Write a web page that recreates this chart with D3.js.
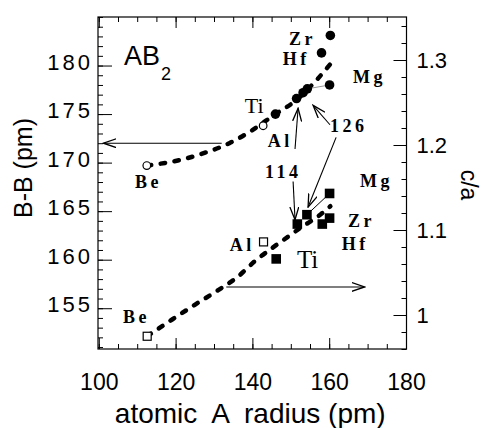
<!DOCTYPE html>
<html>
<head>
<meta charset="utf-8">
<script src="https://cdn.jsdelivr.net/npm/d3@7"></script>
<style>
  body { margin: 0; background: #fff; }
  text { fill: #000; }
</style>
</head>
<body>
<svg id="canvas"></svg>
<script>
/* B-B distance (left axis) - circles */
const bbNames  = ["Be", "Al", "Ti", "114", "126", "126b", "Hf", "Mg", "Zr"];
const bbRadius = [112.5, 142.8, 146.0, 151.5, 153.2, 154.3, 158.0, 160.1, 160.3];
const bbValue  = [169.7, 173.8, 175.0, 176.6, 177.2, 177.6, 181.3, 178.0, 183.1];
const bbOpen   = ["Be", "Al"];

/* c/a ratio (right axis) - squares */
const caNames  = ["Be", "Al", "Ti", "114", "126", "Hf", "Zr", "Mg"];
const caRadius = [112.6, 142.9, 146.2, 151.7, 154.2, 158.2, 160.1, 160.1];
const caValue  = [0.975, 1.086, 1.066, 1.107, 1.118, 1.107, 1.114, 1.143];
const caOpen   = ["Be", "Al"];

/* dashed guide curves */
const bbFitRadius = [112.5, 121.5, 127.5, 134.0, 139.8, 146.0, 151.0, 156.7, 160.4];
const bbFitValue  = [169.7, 170.3, 171.0, 172.0, 173.3, 175.0, 176.3, 178.5, 180.2];
const caFitRadius = [112.6, 119.2, 125.0, 131.0, 136.2, 140.8, 144.9, 148.0, 153.0, 157.1, 160.3];
const caFitValue  = [0.975, 0.995, 1.012, 1.029, 1.045, 1.064, 1.078, 1.088, 1.104, 1.116, 1.128];

/* ticks */
const xTicks  = [100, 120, 140, 160, 180];
const bbTicks = [155, 160, 165, 170, 175, 180];
const caTicks = [1.0, 1.1, 1.2, 1.3];

const width = 483, height = 428;
const fLeft = 98, fRight = 406.5, fTop = 17, fBottom = 349;

const svg = d3.select("#canvas")
    .attr("width", width)
    .attr("height", height);

const x  = d3.scaleLinear().domain([100, 180]).range([98.8, 406]);
const yL = d3.scaleLinear().domain([150.8, 185]).range([fBottom, fTop]);
const yR = d3.scaleLinear().domain([0.96, 1.3506]).range([fBottom, fTop]);

/* axes: majors with labels, minors without */
function minor(axis) {
    return g => g.call(axis.tickFormat("").tickSize(-5))
        .call(g => g.select(".domain").remove());
}

svg.append("g").attr("transform", `translate(0,${fBottom})`)
    .call(minor(d3.axisBottom(x).tickValues(d3.range(100, 181, 5))));
svg.append("g").attr("transform", `translate(0,${fTop})`)
    .call(minor(d3.axisTop(x).tickValues(d3.range(100, 181, 5))));
svg.append("g").attr("transform", `translate(${fLeft},0)`)
    .call(minor(d3.axisLeft(yL).tickValues(d3.range(151, 185.1, 1))));
svg.append("g").attr("transform", `translate(${fRight},0)`)
    .call(minor(d3.axisRight(yR).tickValues(d3.range(0.96, 1.35, 0.02))));

const xAxis = svg.append("g").attr("transform", `translate(0,${fBottom})`)
    .call(d3.axisBottom(x).tickValues(xTicks).tickSize(-11).tickPadding(0));
xAxis.selectAll("text")
    .attr("y", 41).attr("dy", null)
    .style("font", "23px 'Liberation Sans', Arial, sans-serif");

svg.append("g").attr("transform", `translate(0,${fTop})`)
    .call(d3.axisTop(x).tickValues(xTicks).tickSize(-11).tickFormat(""));

const lAxis = svg.append("g").attr("transform", `translate(${fLeft},0)`)
    .call(d3.axisLeft(yL).tickValues(bbTicks).tickSize(-14));
lAxis.selectAll("text")
    .attr("x", -5).attr("dy", "0.16em")
    .style("font", "22px 'Liberation Sans', Arial, sans-serif")
    .style("letter-spacing", "3px");

const rAxis = svg.append("g").attr("transform", `translate(${fRight},0)`)
    .call(d3.axisRight(yR).tickValues(caTicks).tickSize(-13)
        .tickFormat(d => d === 1 ? "1" : d3.format(".1f")(d)));
rAxis.selectAll("text")
    .attr("x", 10).attr("dy", "0.36em")
    .style("font", "22px 'Liberation Sans', Arial, sans-serif");

svg.selectAll(".domain").remove();
svg.selectAll(".tick line").attr("stroke", "#000").attr("stroke-width", 1);

svg.append("rect")
    .attr("x", fLeft).attr("y", fTop)
    .attr("width", fRight - fLeft).attr("height", fBottom - fTop)
    .attr("fill", "none").attr("stroke", "#000").attr("stroke-width", 1.2);

/* axis titles */
svg.append("text")
    .attr("x", (fLeft + fRight) / 2 - 2).attr("y", 423)
    .attr("text-anchor", "middle")
    .style("font", "28px 'Liberation Sans', Arial, sans-serif")
    .style("white-space", "pre")
    .text("atomic  A  radius (pm)");

svg.append("text")
    .attr("transform", "translate(32,168) rotate(-90)")
    .attr("text-anchor", "middle")
    .style("font", "25px 'Liberation Sans', Arial, sans-serif")
    .text("B-B (pm)");

svg.append("text")
    .attr("transform", "translate(461,185) rotate(90)")
    .attr("text-anchor", "middle")
    .style("font", "23px 'Liberation Sans', Arial, sans-serif")
    .text("c/a");

/* AB2 */
const ab = svg.append("text")
    .attr("x", 124).attr("y", 65)
    .style("font", "27px 'Liberation Sans', Arial, sans-serif");
ab.append("tspan").text("AB");
ab.append("tspan").attr("dy", 15).attr("dx", 1).style("font-size", "18px").text("2");

/* dashed curves */
const bbFit = bbFitRadius.map((r, i) => [r, bbFitValue[i]]);
const caFit = caFitRadius.map((r, i) => [r, caFitValue[i]]);

svg.append("path")
    .datum(bbFit)
    .attr("d", d3.line().x(d => x(d[0])).y(d => yL(d[1])).curve(d3.curveMonotoneX))
    .attr("fill", "none").attr("stroke", "#000")
    .attr("stroke-width", 4.5).attr("stroke-linecap", "round")
    .attr("stroke-dasharray", "4.5,9.5");

svg.append("path")
    .datum(caFit)
    .attr("d", d3.line().x(d => x(d[0])).y(d => yR(d[1])).curve(d3.curveMonotoneX))
    .attr("fill", "none").attr("stroke", "#000")
    .attr("stroke-width", 4.5).attr("stroke-linecap", "round")
    .attr("stroke-dasharray", "4.5,9.5");

/* thin connectors to Mg */
const i126 = bbNames.indexOf("126b"), iMg = bbNames.indexOf("Mg");
svg.append("line")
    .attr("x1", x(bbRadius[i126])).attr("y1", yL(bbValue[i126]))
    .attr("x2", x(bbRadius[iMg])).attr("y2", yL(bbValue[iMg]))
    .attr("stroke", "#999").attr("stroke-width", 1);
const j126 = caNames.indexOf("126"), jMg = caNames.indexOf("Mg");
svg.append("line")
    .attr("x1", x(caRadius[j126])).attr("y1", yR(caValue[j126]))
    .attr("x2", x(caRadius[jMg])).attr("y2", yR(caValue[jMg]))
    .attr("stroke", "#000").attr("stroke-width", 1);

/* markers */
const bbData = bbNames.map((n, i) => ({ name: n, r: bbRadius[i], v: bbValue[i], open: bbOpen.includes(n) }));
const caData = caNames.map((n, i) => ({ name: n, r: caRadius[i], v: caValue[i], open: caOpen.includes(n) }));

svg.append("g").selectAll("circle")
    .data(bbData)
    .join("circle")
    .attr("cx", d => x(d.r))
    .attr("cy", d => yL(d.v))
    .attr("r", d => d.open ? 3.8 : 4.8)
    .attr("fill", d => d.open ? "#fff" : "#000")
    .attr("stroke", "#000")
    .attr("stroke-width", d => d.open ? 1.2 : 0);

svg.append("g").selectAll("rect")
    .data(caData)
    .join("rect")
    .attr("x", d => x(d.r) - (d.open ? 4 : 4.8))
    .attr("y", d => yR(d.v) - (d.open ? 4 : 4.8))
    .attr("width", d => d.open ? 8 : 9.6)
    .attr("height", d => d.open ? 8 : 9.6)
    .attr("fill", d => d.open ? "#fff" : "#000")
    .attr("stroke", "#000")
    .attr("stroke-width", d => d.open ? 1.2 : 0);

/* arrows */
svg.append("defs").append("marker")
    .attr("id", "head")
    .attr("markerUnits", "userSpaceOnUse")
    .attr("viewBox", "0 0 14 10")
    .attr("refX", 13).attr("refY", 5)
    .attr("markerWidth", 14).attr("markerHeight", 10)
    .attr("orient", "auto")
    .append("path")
    .attr("d", "M0,0.5 L13,5 L0,9.5")
    .attr("fill", "none").attr("stroke", "#000").attr("stroke-width", 1.3);

const arrows = [
    { axis: "L", from: [132.0, 172.0], to: [101.2, 172.0] },
    { axis: "R", from: [133.2, 1.033], to: [169.2, 1.033] },
    { axis: "L", from: [151.1, 171.4], to: [151.9, 175.6] },
    { axis: "R", from: [150.6, 1.157], to: [151.1, 1.112] },
    { axis: "L", from: [160.2, 173.9], to: [155.8, 175.9] },
    { axis: "R", from: [161.8, 1.209], to: [154.5, 1.127] }
];

svg.append("g").selectAll("line")
    .data(arrows)
    .join("line")
    .attr("x1", d => x(d.from[0]))
    .attr("y1", d => (d.axis === "L" ? yL : yR)(d.from[1]))
    .attr("x2", d => x(d.to[0]))
    .attr("y2", d => (d.axis === "L" ? yL : yR)(d.to[1]))
    .attr("stroke", "#000").attr("stroke-width", 1.1)
    .attr("marker-end", "url(#head)");

/* point labels */
const labels = [
    { axis: "L", text: "Zr",  at: [149.5, 182.1], bold: true },
    { axis: "L", text: "Hf",  at: [147.9, 180.05], bold: true },
    { axis: "L", text: "Mg",  at: [166.2, 178.2], bold: true },
    { axis: "L", text: "Ti",  at: [138.0, 175.1], bold: false, size: 22 },
    { axis: "L", text: "Al",  at: [144.0, 171.6], bold: true },
    { axis: "L", text: "126", at: [160.2, 173.15], bold: true, size: 18 },
    { axis: "L", text: "114", at: [143.3, 168.4], bold: true, size: 18 },
    { axis: "L", text: "Be",  at: [109.4, 167.4], bold: true },
    { axis: "R", text: "Mg",  at: [168.0, 1.1506], bold: true },
    { axis: "R", text: "Zr",  at: [164.9, 1.1035], bold: true },
    { axis: "R", text: "Hf",  at: [163.3, 1.0765], bold: true },
    { axis: "R", text: "Al",  at: [134.1, 1.0753], bold: true },
    { axis: "R", text: "Ti",  at: [151.6, 1.0553], bold: false, size: 25 },
    { axis: "R", text: "Be",  at: [106.3, 0.9906], bold: true }
];

svg.append("g").selectAll("text")
    .data(labels)
    .join("text")
    .attr("x", d => x(d.at[0]))
    .attr("y", d => (d.axis === "L" ? yL : yR)(d.at[1]))
    .style("font-family", "'Liberation Serif', 'Times New Roman', serif")
    .style("font-weight", d => d.bold ? "bold" : "normal")
    .style("font-size", d => (d.size || 18) + "px")
    .style("letter-spacing", d => d.bold ? "3.5px" : "0px")
    .text(d => d.text);
</script>
</body>
</html>
